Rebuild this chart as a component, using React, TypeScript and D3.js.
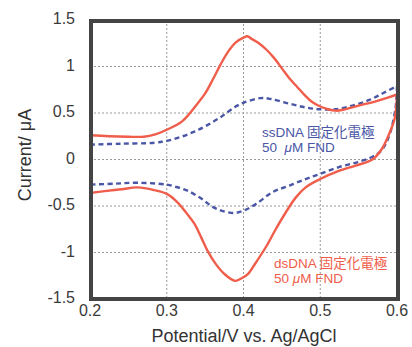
import React from "react";
import * as d3 from "d3";

// potential (V) vs current (uA)
const dsForward: [number, number][] = [
  [0.2, 0.26], [0.225, 0.25], [0.25, 0.245], [0.27, 0.245], [0.285, 0.27], [0.3, 0.32],
  [0.32, 0.41], [0.34, 0.6], [0.35, 0.71], [0.36, 0.86], [0.37, 1.02], [0.38, 1.16],
  [0.39, 1.26], [0.4, 1.31], [0.405, 1.325], [0.41, 1.3], [0.42, 1.25], [0.43, 1.18],
  [0.44, 1.09], [0.45, 0.98], [0.46, 0.87], [0.47, 0.78], [0.48, 0.69], [0.49, 0.615],
  [0.5, 0.57], [0.51, 0.54], [0.52, 0.525], [0.53, 0.535], [0.55, 0.58], [0.57, 0.62],
  [0.59, 0.67], [0.6, 0.7],
];
const dsReverse: [number, number][] = [
  [0.6, 0.7], [0.597, 0.44], [0.59, 0.28], [0.58, 0.11], [0.568, 0.0], [0.546, -0.065],
  [0.525, -0.12], [0.5, -0.21], [0.481, -0.3], [0.468, -0.41], [0.455, -0.57],
  [0.442, -0.75], [0.43, -0.93], [0.416, -1.11], [0.406, -1.23], [0.397, -1.28],
  [0.389, -1.305], [0.375, -1.23], [0.364, -1.125], [0.353, -0.98], [0.345, -0.84],
  [0.336, -0.69], [0.327, -0.59], [0.314, -0.46], [0.3, -0.37], [0.284, -0.33],
  [0.262, -0.3], [0.241, -0.32], [0.219, -0.34], [0.2, -0.36],
];
const ssForward: [number, number][] = [
  [0.2, 0.16], [0.24, 0.17], [0.284, 0.18], [0.3, 0.2], [0.319, 0.245], [0.336, 0.3],
  [0.353, 0.37], [0.371, 0.46], [0.388, 0.56], [0.4, 0.61], [0.422, 0.66], [0.436, 0.65],
  [0.46, 0.6], [0.481, 0.56], [0.5, 0.54], [0.52, 0.54], [0.542, 0.58], [0.564, 0.64],
  [0.581, 0.71], [0.6, 0.79],
];
const ssReverse: [number, number][] = [
  [0.6, 0.79], [0.598, 0.55], [0.59, 0.26], [0.58, 0.1], [0.568, 0.03], [0.548, -0.03],
  [0.525, -0.08], [0.5, -0.155], [0.481, -0.21], [0.46, -0.28], [0.438, -0.35],
  [0.416, -0.48], [0.4, -0.55], [0.388, -0.575], [0.371, -0.55], [0.358, -0.5],
  [0.345, -0.42], [0.327, -0.335], [0.31, -0.29], [0.3, -0.27], [0.262, -0.25],
  [0.232, -0.26], [0.2, -0.27],
];

const xTicks = [0.2, 0.3, 0.4, 0.5, 0.6];
const yTicks = [1.5, 1, 0.5, 0, -0.5, -1, -1.5];

const RED = "#f05d4b";
const BLUE = "#4a56a6";
const FONT = "'Liberation Sans', Arial, 'Noto Sans CJK JP', sans-serif";

const App: React.FC = () => {
  const width = 412;
  const height = 347;
  const x = d3.scaleLinear().domain([0.2, 0.6]).range([90, 397]);
  const y = d3.scaleLinear().domain([-1.5, 1.5]).range([299, 20]);

  const line = d3
    .line<[number, number]>()
    .x((d) => x(d[0]))
    .y((d) => y(d[1]))
    .curve(d3.curveCatmullRom.alpha(0.5));

  const [x0, x1] = x.range();
  const [y0, y1] = y.range();

  return (
    <svg
      width={width}
      height={height}
      style={{ position: "absolute", left: 0, top: 0, background: "#fff" }}
      fontFamily={FONT}
    >
      <defs>
        <clipPath id="plot">
          <rect x={x0} y={y1} width={x1 - x0} height={y0 - y1} />
        </clipPath>
      </defs>

      {/* grid */}
      {xTicks.slice(1, -1).map((t) => (
        <line key={"gx" + t} x1={x(t)} x2={x(t)} y1={y1} y2={y0}
          stroke="#999" strokeWidth={1} strokeDasharray="2,2" />
      ))}
      {yTicks.slice(1, -1).map((t) => (
        <line key={"gy" + t} x1={x0} x2={x1} y1={y(t)} y2={y(t)}
          stroke="#999" strokeWidth={1} strokeDasharray="2,2" />
      ))}

      {/* curves */}
      <g clipPath="url(#plot)" fill="none" strokeLinejoin="round">
        <path d={line(ssForward) ?? ""} stroke={BLUE} strokeWidth={2.4} strokeDasharray="5,3.5" />
        <path d={line(ssReverse) ?? ""} stroke={BLUE} strokeWidth={2.4} strokeDasharray="5,3.5" />
        <path d={line(dsForward) ?? ""} stroke={RED} strokeWidth={2.4} />
        <path d={line(dsReverse) ?? ""} stroke={RED} strokeWidth={2.4} />
      </g>

      {/* frame */}
      <rect x={x0 + 1} y={y1 + 1} width={x1 - x0} height={y0 - y1 - 1}
        fill="none" stroke="#444" strokeWidth={4} />

      {/* tick labels */}
      {yTicks.map((t) => (
        <text key={"ty" + t} x={75} y={y(t) + 4} textAnchor="end" fontSize={16} fill="#3a3a3a">
          {t === 0 ? "0" : String(t)}
        </text>
      ))}
      {xTicks.map((t) => (
        <text key={"tx" + t} x={x(t)} y={316} textAnchor="middle" fontSize={16} fill="#3a3a3a">
          {t.toFixed(1)}
        </text>
      ))}

      {/* axis titles */}
      <text x={244} y={342} textAnchor="middle" fontSize={18} fill="#333">
        Potential/V vs. Ag/AgCl
      </text>
      <text transform="translate(31,155) rotate(-90)" textAnchor="middle" fontSize={18} fill="#333">
        Current/ μA
      </text>

      {/* annotations */}
      <text x={262} y={137} fontSize={13.5} fill={BLUE}>
        ssDNA 固定化電極
      </text>
      <text x={262} y={152} fontSize={13.5} fill={BLUE} xmlSpace="preserve">
        50  <tspan fontStyle="italic">μ</tspan>M FND
      </text>
      <text x={274} y={268} fontSize={13.5} fill={RED}>
        dsDNA 固定化電極
      </text>
      <text x={274} y={283} fontSize={13.5} fill={RED} xmlSpace="preserve">
        50 <tspan fontStyle="italic">μ</tspan>M FND
      </text>
    </svg>
  );
};

export default App;
